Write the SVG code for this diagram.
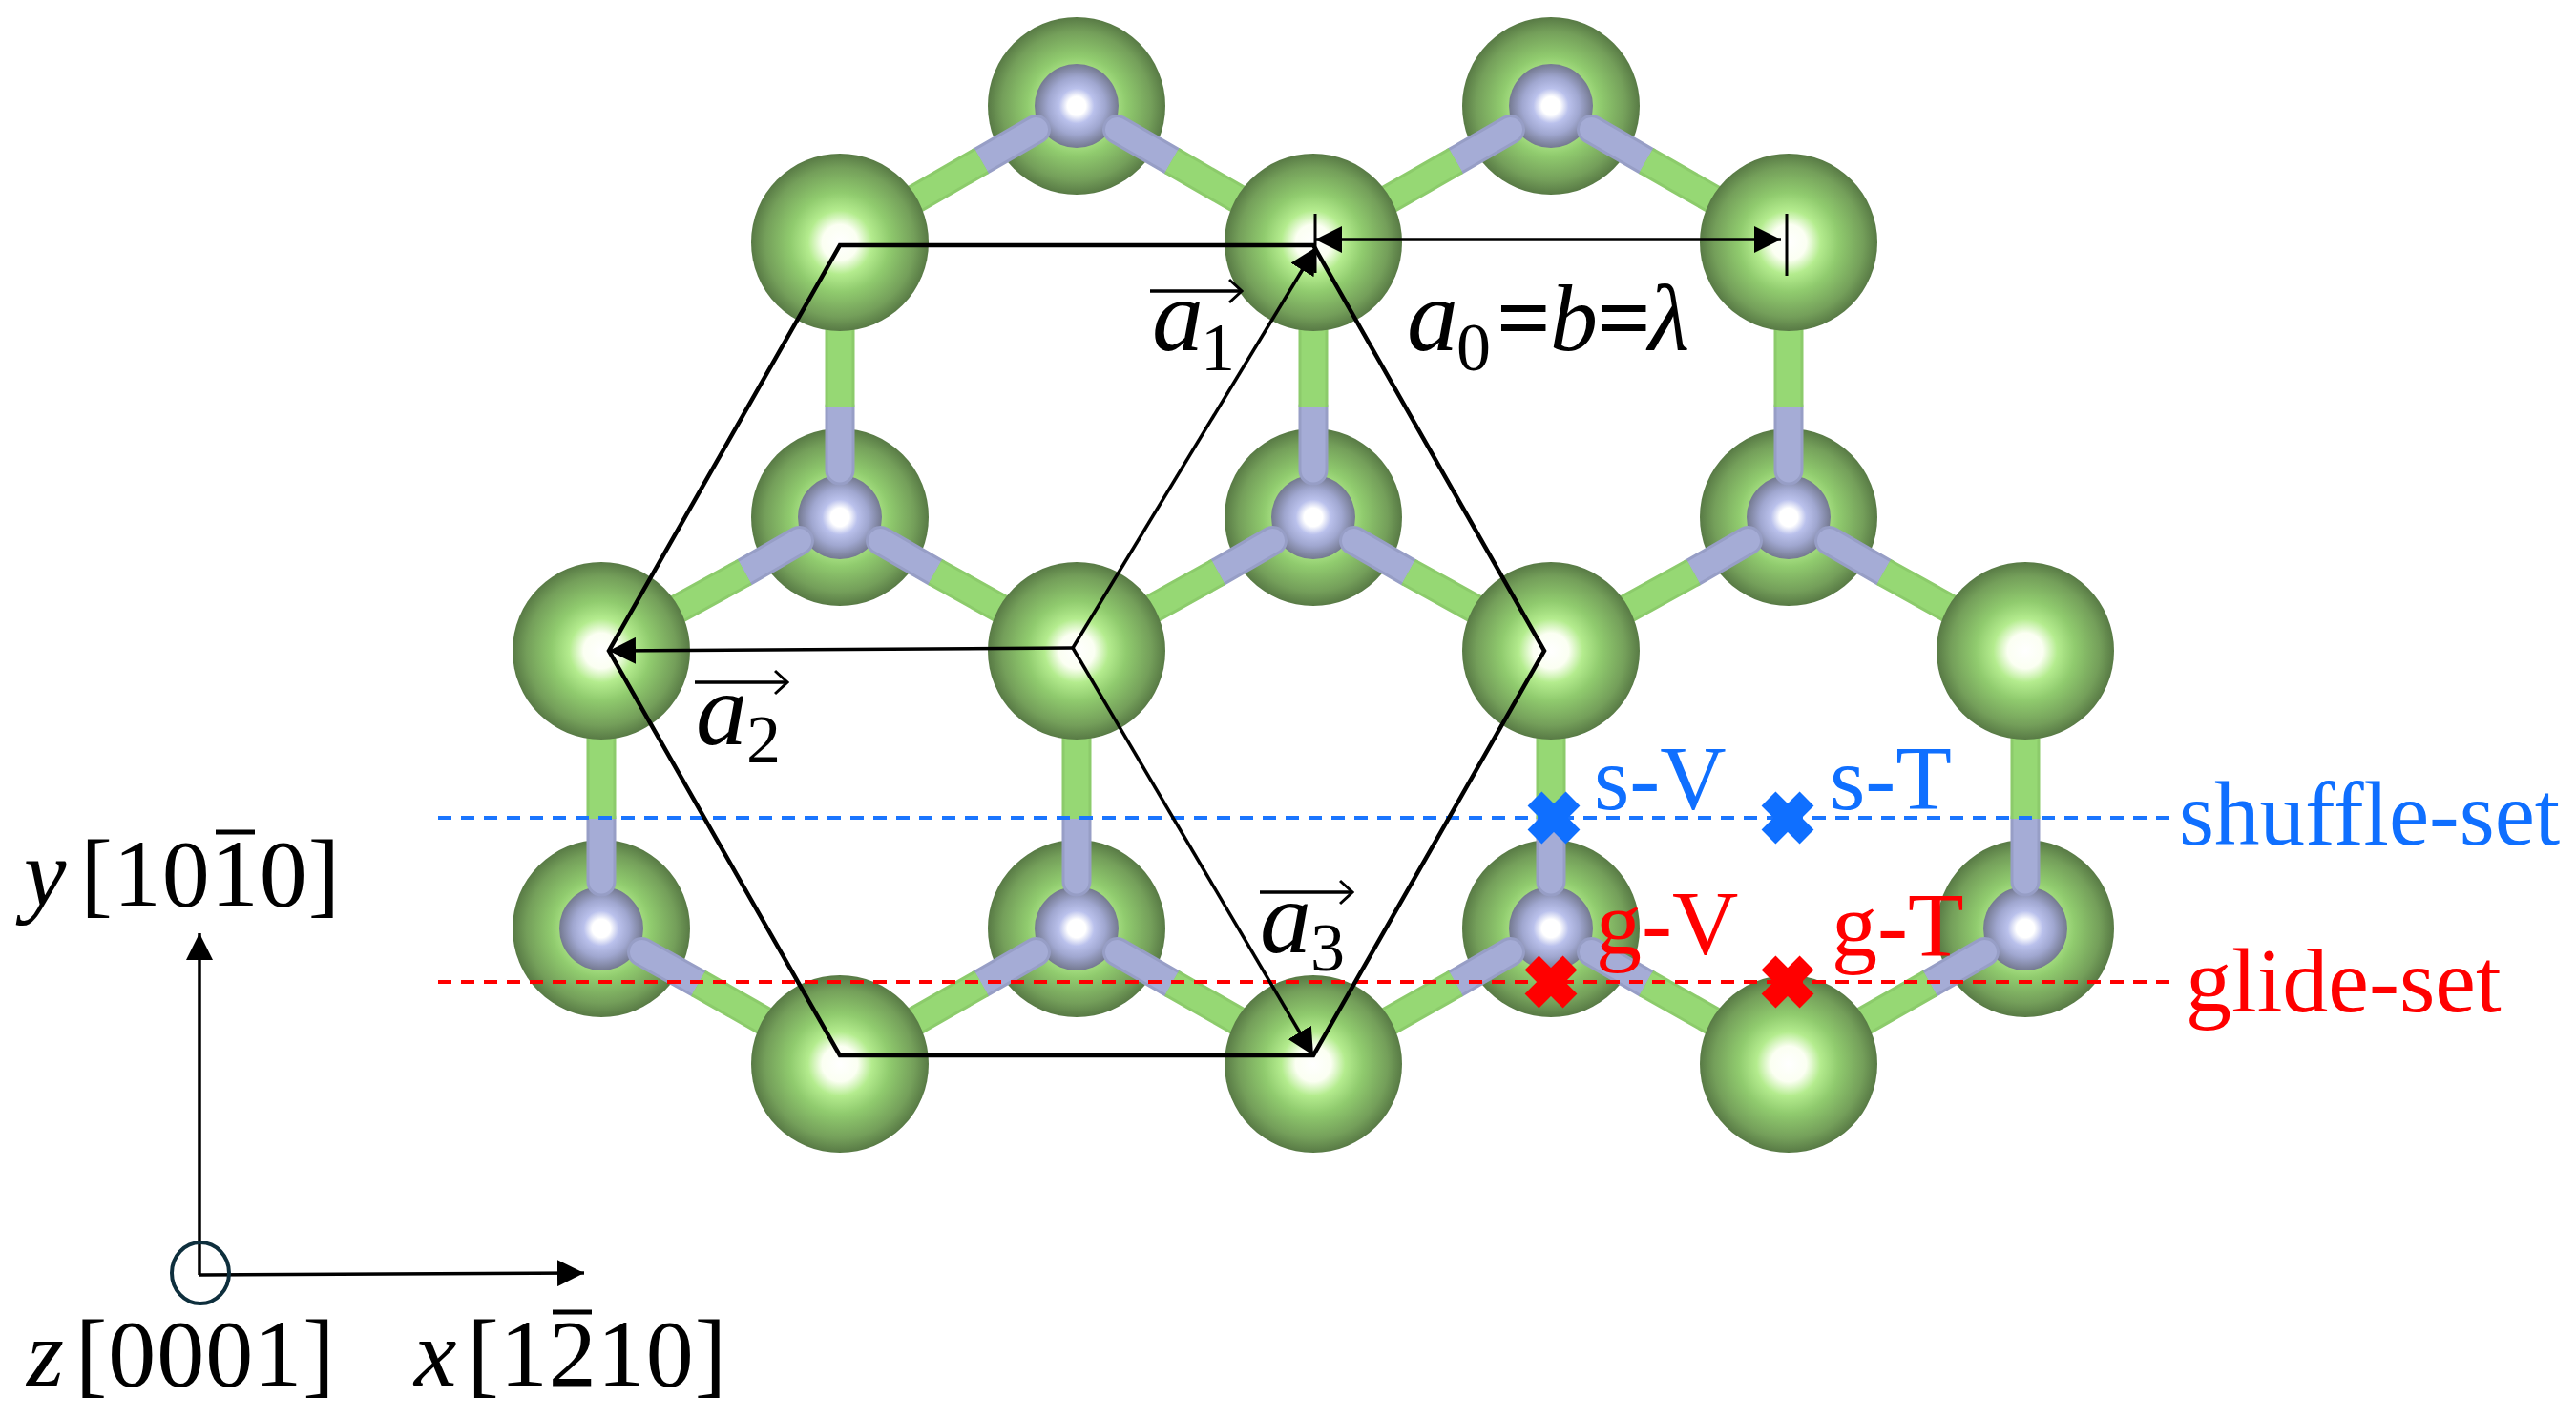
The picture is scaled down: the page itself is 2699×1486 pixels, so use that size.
<svg xmlns="http://www.w3.org/2000/svg" width="2699" height="1486" viewBox="0 0 2699 1486">
<style>
.sv{font-family:"Liberation Serif",serif;font-size:96px}
.m{font-family:"Liberation Serif",serif;font-size:100px;fill:#000}
.mi{font-style:italic}
.ls{letter-spacing:1px}
.av{font-family:"Liberation Serif",serif;font-size:108px;font-style:italic;fill:#000}
.sub{font-family:"Liberation Serif",serif;font-size:72px;fill:#000}
.blue{fill:#0f6fff}.red{fill:#ff0000}
.bk{stroke:#000;fill:none}
</style>
<defs>
<radialGradient id="gG"><stop offset="0" stop-color="#fff"/><stop offset=".2" stop-color="#fbfff2"/><stop offset=".36" stop-color="#b4ec8e"/><stop offset=".56" stop-color="#90cb6e"/><stop offset=".84" stop-color="#749f5a"/><stop offset="1" stop-color="#587a45"/></radialGradient>
<radialGradient id="gB"><stop offset="0" stop-color="#fff"/><stop offset=".22" stop-color="#fff"/><stop offset=".42" stop-color="#bac1ec"/><stop offset=".68" stop-color="#a0a7d0"/><stop offset="1" stop-color="#747990"/></radialGradient>
<circle id="fa" r="93" fill="url(#gG)"/>
<circle id="ga" r="44" fill="url(#gB)"/>
<marker id="ah" markerUnits="userSpaceOnUse" markerWidth="28" markerHeight="28" refX="28" refY="14" orient="auto-start-reverse"><path d="M0,0L28,14L0,28z" fill="#000"/></marker>
<marker id="ch" markerUnits="userSpaceOnUse" markerWidth="16" markerHeight="30" refX="14" refY="14" orient="auto"><path d="M1,2L14,14L1,26" fill="none" stroke="#000" stroke-width="3"/></marker>
<path id="grayB" d="M1085.5,135.5L1028.3,168.5M1170.5,135.5L1227.7,168.5M1582.5,135.5L1525.3,168.5M1667.5,135.5L1724.7,168.5M880,493L880,427M837.5,566.5L780.3,599.5M922.5,566.5L979.7,599.5M1376,493L1376,427M1333.5,566.5L1276.3,599.5M1418.5,566.5L1475.7,599.5M1874,493L1874,427M1831.5,566.5L1774.3,599.5M1916.5,566.5L1973.7,599.5M630,924L630,858M672.5,997.5L731.7,1030.5M1128,924L1128,858M1085.5,997.5L1028.3,1030.5M1170.5,997.5L1227.7,1030.5M1625,924L1625,858M1582.5,997.5L1525.3,1030.5M1667.5,997.5L1724.7,1030.5M2122,924L2122,858M2079.5,997.5L2022.3,1030.5"/>
<path id="greenB" d="M1028.3,168.5L880,254M1227.7,168.5L1376,254M1525.3,168.5L1376,254M1724.7,168.5L1874,254M880,427L880,254M1376,427L1376,254M1874,427L1874,254M780.3,599.5L630,682M979.7,599.5L1128,682M1276.3,599.5L1128,682M1475.7,599.5L1625,682M1774.3,599.5L1625,682M1973.7,599.5L2122,682M630,858L630,682M1128,858L1128,682M1625,858L1625,682M2122,858L2122,682M731.7,1030.5L880,1115M1028.3,1030.5L880,1115M1227.7,1030.5L1376,1115M1525.3,1030.5L1376,1115M1724.7,1030.5L1874,1115M2022.3,1030.5L1874,1115"/>
</defs>
<rect width="2699" height="1486" fill="#fff"/>
<g id="back-atoms">
<g id="b1"><use href="#fa" x="1128" y="111"/><use href="#ga" x="1128" y="111"/></g>
<g id="b2"><use href="#fa" x="1625" y="111"/><use href="#ga" x="1625" y="111"/></g>
<g id="b3"><use href="#fa" x="880" y="542"/><use href="#ga" x="880" y="542"/></g>
<g id="b4"><use href="#fa" x="1376" y="542"/><use href="#ga" x="1376" y="542"/></g>
<g id="b5"><use href="#fa" x="1874" y="542"/><use href="#ga" x="1874" y="542"/></g>
<g id="b6"><use href="#fa" x="630" y="973"/><use href="#ga" x="630" y="973"/></g>
<g id="b7"><use href="#fa" x="1128" y="973"/><use href="#ga" x="1128" y="973"/></g>
<g id="b8"><use href="#fa" x="1625" y="973"/><use href="#ga" x="1625" y="973"/></g>
<g id="b9"><use href="#fa" x="2122" y="973"/><use href="#ga" x="2122" y="973"/></g>
</g>
<g id="bonds" fill="none">
<use href="#grayB" stroke="#979ec6" stroke-width="31" stroke-linecap="round"/>
<use href="#grayB" stroke="#a5acd6" stroke-width="25" stroke-linecap="round"/>
<use href="#greenB" stroke="#8ccb6b" stroke-width="31"/>
<use href="#greenB" stroke="#96d874" stroke-width="25"/>
</g>
<g id="front-atoms">
<use id="f1" href="#fa" x="880" y="254"/>
<use id="f2" href="#fa" x="1376" y="254"/>
<use id="f3" href="#fa" x="1874" y="254"/>
<use id="f4" href="#fa" x="630" y="682"/>
<use id="f5" href="#fa" x="1128" y="682"/>
<use id="f6" href="#fa" x="1625" y="682"/>
<use id="f7" href="#fa" x="2122" y="682"/>
<use id="f8" href="#fa" x="880" y="1115"/>
<use id="f9" href="#fa" x="1376" y="1115"/>
<use id="f10" href="#fa" x="1874" y="1115"/>
</g>
<g id="slip-planes" fill="none" stroke-width="4" stroke-dasharray="14 10">
<line x1="459" y1="857" x2="2280" y2="857" stroke="#1a75ff"/>
<line x1="459" y1="1029" x2="2280" y2="1029" stroke="#ff0000"/>
</g>
<g id="cell">
<path class="bk" stroke-width="4.5" d="M880,257L1376,257L1618,682L1376,1106L880,1106L638,682Z"/>
<line class="bk" stroke-width="3.5" x1="1124" y1="679" x2="1379" y2="259" marker-end="url(#ah)"/>
<line class="bk" stroke-width="3.5" x1="1124" y1="679" x2="638" y2="682" marker-end="url(#ah)"/>
<line class="bk" stroke-width="3.5" x1="1124" y1="679" x2="1376" y2="1106" marker-end="url(#ah)"/>
<line class="bk" stroke-width="3.5" x1="1378" y1="251" x2="1866" y2="251" marker-start="url(#ah)" marker-end="url(#ah)"/>
<line class="bk" stroke-width="3" x1="1378" y1="224" x2="1378" y2="286"/>
<line class="bk" stroke-width="3" x1="1872" y1="224" x2="1872" y2="289"/>
<line class="bk" stroke-width="3.5" x1="1205" y1="305" x2="1301" y2="305" marker-end="url(#ch)"/>
<line class="bk" stroke-width="3.5" x1="728" y1="715" x2="825" y2="715" marker-end="url(#ch)"/>
<line class="bk" stroke-width="3.5" x1="1320" y1="935" x2="1417" y2="935" marker-end="url(#ch)"/>
</g>
<g id="sites" stroke-width="21" fill="none">
<path d="M1608,837L1648,877M1648,837L1608,877" stroke="#0f6fff"/>
<path d="M1853,837L1893,877M1893,837L1853,877" stroke="#0f6fff"/>
<path d="M1605,1009L1645,1049M1645,1009L1605,1049" stroke="#ff0000"/>
<path d="M1853,1009L1893,1049M1893,1009L1853,1049" stroke="#ff0000"/>
</g>
<g id="axes">
<line class="bk" stroke-width="3.5" x1="209" y1="1336" x2="209" y2="978" marker-end="url(#ah)"/>
<line class="bk" stroke-width="3.5" x1="209" y1="1336" x2="612" y2="1334" marker-end="url(#ah)"/>
<ellipse cx="210" cy="1334" rx="30" ry="32" fill="none" stroke="#0e2f3d" stroke-width="4"/>
<line class="bk" stroke-width="5" x1="226" y1="872" x2="267" y2="872"/>
<line class="bk" stroke-width="5" x1="579" y1="1375" x2="620" y2="1375"/>
</g>
<g id="labels">
<text class="m" x="25" y="949"><tspan class="mi">y</tspan><tspan class="ls" dx="15">[1010]</tspan></text>
<text class="m" x="28" y="1452"><tspan class="mi">z</tspan><tspan class="ls" dx="12">[0001]</tspan></text>
<text class="m" x="434" y="1452"><tspan class="mi">x</tspan><tspan class="ls" dx="11">[1210]</tspan></text>
<text class="av" x="1207" y="367">a</text><text class="sub" x="1258" y="388">1</text>
<text class="av" x="729" y="780">a</text><text class="sub" x="782" y="799">2</text>
<text class="av" x="1320" y="998">a</text><text class="sub" x="1373" y="1017">3</text>
<text class="av" x="1474" y="367">a</text><text class="sub" x="1526" y="388">0</text>
<text class="m" y="367"><tspan x="1568" font-weight="bold">=</tspan><tspan class="mi" x="1624">b</tspan><tspan x="1673" font-weight="bold">=</tspan><tspan class="mi" x="1727">λ</tspan></text>
<text class="sv blue" x="1670" y="848">s-V</text>
<text class="sv blue" x="1917" y="848">s-T</text>
<text class="sv red" x="1672" y="1000">g-V</text>
<text class="sv red" x="1919" y="1002">g-T</text>
<text class="sv blue" x="2283" y="885" style="font-size:95px">shuffle-set</text>
<text class="sv red" x="2290" y="1060">glide-set</text>
</g>
</svg>
